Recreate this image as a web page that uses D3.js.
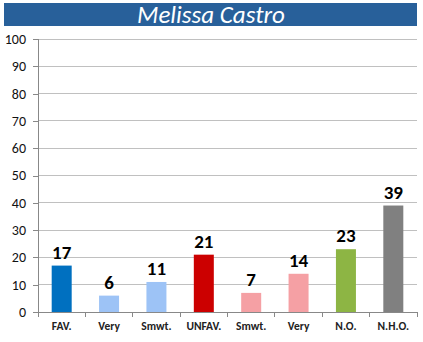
<!DOCTYPE html>
<html>
<head>
<meta charset="utf-8">
<script src="https://cdn.jsdelivr.net/npm/d3@7"></script>
<style>
  body { margin: 0; background: #fff; }
  svg { display: block; font-family: Calibri, Carlito, "Liberation Sans", Arial, sans-serif; }
</style>
</head>
<body>
<script>
// chart data
const title = "Melissa Castro";
const categories = ["FAV.", "Very", "Smwt.", "UNFAV.", "Smwt.", "Very", "N.O.", "N.H.O."];
const values = [17, 6, 11, 21, 7, 14, 23, 39];
const colors = ["#0070c0", "#9dc3f6", "#9dc3f6", "#cc0000", "#f5a0a4", "#f5a0a4", "#8db544", "#808080"];
const yTicks = [0, 10, 20, 30, 40, 50, 60, 70, 80, 90, 100];

const svgWidth = 423;
const svgHeight = 342;
const margin = { top: 39, right: 6, bottom: 30, left: 38 };
const chartWidth = svgWidth - margin.left - margin.right;
const chartHeight = svgHeight - margin.top - margin.bottom;

const svg = d3.select("body").append("svg")
  .attr("width", svgWidth)
  .attr("height", svgHeight);

// title banner
svg.append("rect")
  .attr("x", 4).attr("y", 3)
  .attr("width", 413).attr("height", 23)
  .attr("fill", "#28609a");
svg.append("text")
  .attr("x", 211).attr("y", 22.5)
  .attr("text-anchor", "middle")
  .attr("fill", "#fff")
  .attr("font-size", "25px")
  .attr("font-style", "italic")
  .text(title);

const chartGroup = svg.append("g")
  .attr("transform", `translate(${margin.left}, ${margin.top})`);

const x = d3.scaleBand()
  .domain(d3.range(categories.length))
  .range([0, chartWidth]);

const y = d3.scaleLinear()
  .domain([0, 100])
  .range([chartHeight, 0]);

// gridlines
chartGroup.selectAll(".grid")
  .data(yTicks.slice(1))
  .enter()
  .append("line")
  .attr("x1", 0).attr("x2", chartWidth)
  .attr("y1", d => y(d)).attr("y2", d => y(d))
  .attr("stroke", "#c0c0c0")
  .attr("stroke-width", 1)
  .attr("shape-rendering", "crispEdges");

// y axis
const leftAxis = d3.axisLeft(y).tickValues(yTicks).tickSize(5).tickPadding(7);
const yg = chartGroup.append("g").call(leftAxis);
yg.select(".domain").attr("stroke", "#888").attr("shape-rendering", "crispEdges");
yg.selectAll(".tick line").attr("stroke", "#888").attr("shape-rendering", "crispEdges");
yg.selectAll(".tick text")
  .attr("font-size", "14px")
  .attr("fill", "#111")
  .attr("font-family", "Calibri, Carlito, 'Liberation Sans', Arial, sans-serif");

// x axis
const xb = chartGroup.append("g").attr("transform", `translate(0, ${chartHeight})`);
xb.append("line")
  .attr("x1", 0).attr("x2", chartWidth)
  .attr("stroke", "#888")
  .attr("shape-rendering", "crispEdges");
xb.selectAll(".xtick")
  .data(d3.range(categories.length + 1))
  .enter()
  .append("line")
  .attr("x1", d => d * x.bandwidth()).attr("x2", d => d * x.bandwidth())
  .attr("y1", 0).attr("y2", 5)
  .attr("stroke", "#888")
  .attr("shape-rendering", "crispEdges");
xb.selectAll(".xlabel")
  .data(categories)
  .enter()
  .append("text")
  .attr("x", (d, i) => x(i) + x.bandwidth() / 2)
  .attr("y", 18)
  .attr("text-anchor", "middle")
  .attr("font-size", "11.5px")
  .attr("font-weight", "bold")
  .attr("fill", "#222")
  .text(d => d);

// bars
const barWidth = 20;
chartGroup.selectAll(".bar")
  .data(values)
  .enter()
  .append("rect")
  .attr("x", (d, i) => x(i) + x.bandwidth() / 2 - barWidth / 2)
  .attr("y", d => y(d))
  .attr("width", barWidth)
  .attr("height", d => chartHeight - y(d))
  .attr("fill", (d, i) => colors[i]);

// value labels
chartGroup.selectAll(".val")
  .data(values)
  .enter()
  .append("text")
  .attr("x", (d, i) => x(i) + x.bandwidth() / 2)
  .attr("y", d => y(d) - 7)
  .attr("text-anchor", "middle")
  .attr("font-size", "19px")
  .attr("font-weight", "bold")
  .attr("fill", "#000")
  .text(d => d);
</script>
</body>
</html>
